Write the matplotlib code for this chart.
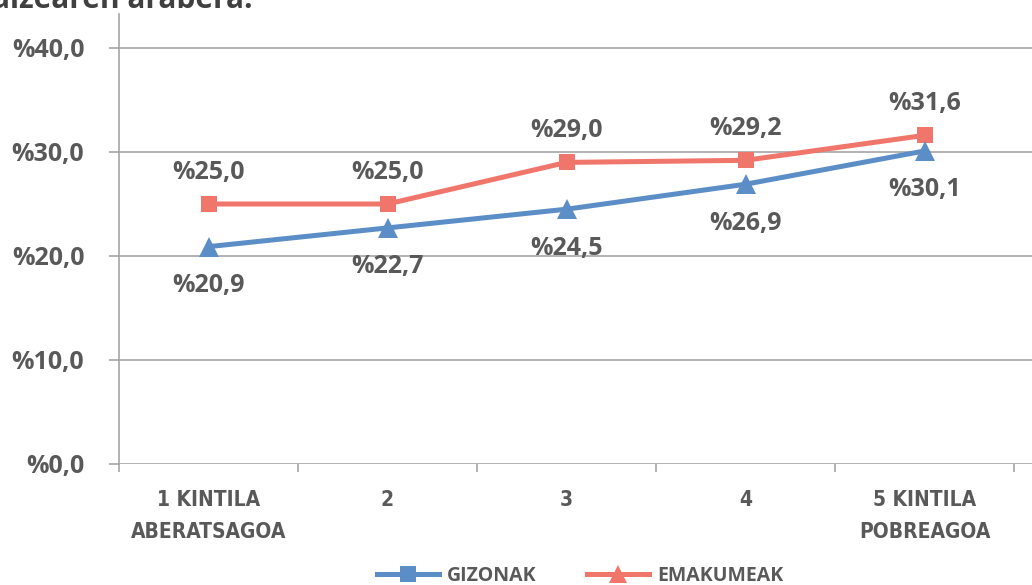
import matplotlib
matplotlib.use("Agg")
import matplotlib.pyplot as plt
from matplotlib.lines import Line2D
from matplotlib.ticker import FixedLocator

# Data
categories = ["1 KINTILA\nABERATSAGOA", "2", "3", "4", "5 KINTILA\nPOBREAGOA"]
gizonak = [20.9, 22.7, 24.5, 26.9, 30.1]
emakumeak = [25.0, 25.0, 29.0, 29.2, 31.6]
y_ticks = [0, 10, 20, 30, 40]
series_names = ["GIZONAK", "EMAKUMEAK"]

BLUE = "#5B8EC6"
RED = "#F0756B"
TEXT = "#595959"
GRID = "#A6A6A6"
FONT = ["Open Sans", "DejaVu Sans"]

def pct(v):
    return "%" + f"{v:.1f}".replace(".", ",")

W, H = 1032, 585
fig = plt.figure(figsize=(W / 100, H / 100), dpi=100)

# axes box in pixel units
left_px, right_px, bottom_px, top_px = 119, 1032, 464, 14
ax = fig.add_axes([left_px / W, (H - bottom_px) / H,
                   (right_px - left_px) / W, (bottom_px - top_px) / H])

x = list(range(1, len(categories) + 1))
cat_w = 179.0
ax.set_xlim(0.5, 0.5 + (right_px - left_px) / cat_w)
ax.set_ylim(0, 40 * (bottom_px - top_px) / (bottom_px - 48))

ax.plot(x, emakumeak, color=RED, lw=3.6, marker="s", ms=12,
        markeredgewidth=0, zorder=3, solid_capstyle="round")
ax.plot(x, gizonak, color=BLUE, lw=3.6, marker="^", ms=15,
        markeredgewidth=0, zorder=4, solid_capstyle="round")

LABEL_SIZE = 18
for xi, v in zip(x, emakumeak):
    ax.annotate(pct(v), (xi, v), xytext=(0, 14), textcoords="offset points",
                ha="center", va="bottom", fontsize=LABEL_SIZE,
                fontweight="bold", color=TEXT, family=FONT)
for xi, v in zip(x, gizonak):
    ax.annotate(pct(v), (xi, v), xytext=(0, -19), textcoords="offset points",
                ha="center", va="top", fontsize=LABEL_SIZE,
                fontweight="bold", color=TEXT, family=FONT)

# gridlines
ax.yaxis.set_major_locator(FixedLocator(y_ticks))
ax.set_yticklabels([pct(t) for t in y_ticks])
for t in y_ticks:
    ax.axhline(t, color=GRID, lw=1.2, zorder=1)

ax.set_xticks(x)
ax.set_xticklabels(categories, linespacing=1.75)
ax.set_xticks([i + 0.5 for i in range(0, 6)], minor=True)
ax.tick_params(axis="x", which="major", length=0, pad=19,
               labelcolor=TEXT)
ax.tick_params(axis="x", which="minor", length=6, width=1.2, color=GRID,
               direction="out")
ax.tick_params(axis="y", length=7, width=1.2, color=GRID, pad=18,
               labelcolor=TEXT)
for lab in ax.get_xticklabels():
    lab.set_fontweight("bold")
    lab.set_family("DejaVu Sans")
    lab.set_fontstretch("condensed")
    lab.set_fontsize(15)
    lab.set_verticalalignment("top")
for lab in ax.get_yticklabels():
    lab.set_fontweight("bold")
    lab.set_family(FONT)
    lab.set_fontsize(LABEL_SIZE)

for s in ["top", "right", "bottom"]:
    ax.spines[s].set_visible(False)
ax.spines["left"].set_color(GRID)
ax.spines["left"].set_linewidth(1.2)

# title (upper part falls outside the canvas)
fig.text(-8 / W, 1 - 8 / H, "aizearen arabera.", ha="left", va="baseline",
         fontsize=21.5, fontweight="bold", color="#404040", family=FONT)

# legend
handles = [
    Line2D([], [], color=BLUE, lw=3.6, marker="s", ms=11, markeredgewidth=0),
    Line2D([], [], color=RED, lw=3.6, marker="^", ms=13, markeredgewidth=0),
]
leg = fig.legend(handles, series_names, loc="center",
                 bbox_to_anchor=(580 / W, 1 - 576 / H), ncol=2, frameon=False,
                 handlelength=3.2, handletextpad=0.4, columnspacing=2.6,
                 prop={"family": FONT, "weight": "bold", "size": 14})
for t in leg.get_texts():
    t.set_color(TEXT)

fig.savefig("out.png", dpi=100)
